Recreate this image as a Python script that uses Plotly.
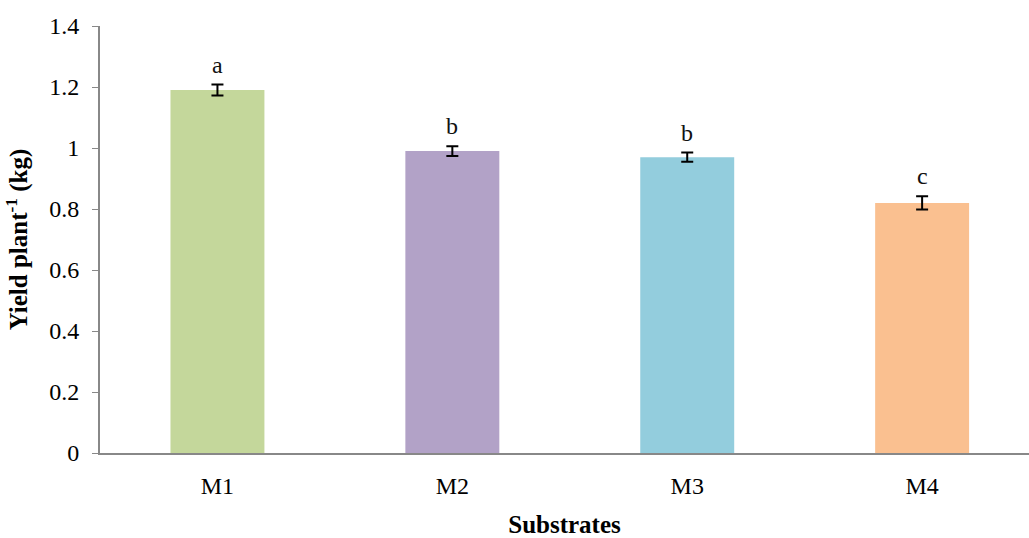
import plotly.graph_objects as go

categories = ["M1", "M2", "M3", "M4"]
values = [1.19, 0.99, 0.97, 0.82]
errors = [0.018, 0.016, 0.015, 0.022]
letters = ["a", "b", "b", "c"]
colors = ["#c4d79b", "#b2a2c7", "#93cddd", "#fac090"]
y_ticks = [0, 0.2, 0.4, 0.6, 0.8, 1, 1.2, 1.4]
y_tick_labels = ["0", "0.2", "0.4", "0.6", "0.8", "1", "1.2", "1.4"]

font_family = "Liberation Serif"

fig = go.Figure()
fig.add_trace(go.Bar(
    x=categories, y=values, width=0.4,
    marker=dict(color=colors, line=dict(width=0)),
    error_y=dict(type="data", array=errors, color="black", thickness=2, width=6),
    showlegend=False,
))

for c, v, e, t in zip(categories, values, errors, letters):
    fig.add_annotation(x=c, y=v + e, text=t, showarrow=False, yanchor="bottom",
                       yshift=5, font=dict(family=font_family, size=24, color="#111"))

fig.update_layout(
    width=1029, height=538,
    margin=dict(l=100, r=0, t=26, b=85, autoexpand=False),
    paper_bgcolor="white", plot_bgcolor="white",
    font=dict(family=font_family, size=24, color="black"),
    bargap=0.6,
)
fig.update_xaxes(
    range=[-0.5, 3.455], automargin=False,
    showline=True, linecolor="#888888", linewidth=2,
    ticks="", showgrid=False, ticklabelstandoff=10,
    tickfont=dict(family=font_family, size=24),
    title=dict(text="<b>Substrates</b>", font=dict(family=font_family, size=25), standoff=18),
)
fig.update_yaxes(
    range=[0, 1.4], tickvals=y_ticks, ticktext=y_tick_labels, automargin=False,
    showline=True, linecolor="#888888", linewidth=2,
    ticks="outside", ticklen=6, tickcolor="#888888", tickwidth=1,
    showgrid=False, zeroline=False, ticklabelstandoff=8,
    tickfont=dict(family=font_family, size=24),
    title=dict(text="<b>Yield plant<sup>-1</sup> (kg)</b>", font=dict(family=font_family, size=25), standoff=14),
)

fig.write_html("out.html", config={"displayModeBar": False},
               post_script="document.body.style.margin='0';")
